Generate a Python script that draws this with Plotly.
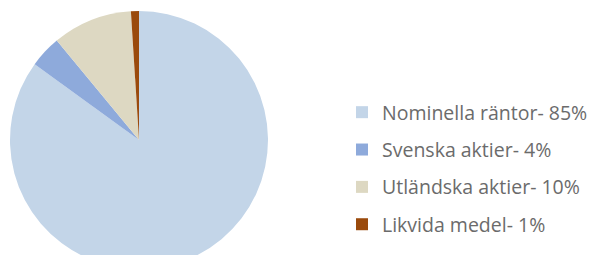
import plotly.graph_objects as go

categories = ["Nominella räntor", "Svenska aktier", "Utländska aktier", "Likvida medel"]
values = [85, 4, 10, 1]
legend_labels = ["Nominella räntor- 85%", "Svenska aktier- 4%", "Utländska aktier- 10%", "Likvida medel- 1%"]
colors = ["#c3d5e8", "#8eaadb", "#ddd8c2", "#9a4a0c"]

W, H = 596, 262

fig = go.Figure()
fig.add_trace(go.Pie(
    labels=categories,
    values=values,
    sort=False,
    direction="clockwise",
    rotation=0,
    textinfo="none",
    marker=dict(colors=colors, line=dict(width=0)),
    showlegend=False,
    domain=dict(x=[2 / W, 260 / W], y=[1 - 261 / H, 1 - 3 / H]),
))

for lab, col in zip(legend_labels, colors):
    fig.add_trace(go.Scatter(
        x=[None], y=[None], mode="markers", name=lab,
        legendgroup=lab,
        marker=dict(symbol="square", size=12, color=col),
        hoverinfo="skip",
    ))

fig.update_layout(
    width=W, height=H,
    margin=dict(l=0, r=0, t=0, b=0),
    paper_bgcolor="white", plot_bgcolor="white",
    xaxis=dict(visible=False), yaxis=dict(visible=False),
    showlegend=True,
    legend=dict(
        x=334 / W, y=1 - 85 / H, xanchor="left", yanchor="top",
        font=dict(family="Open Sans", size=19.5, color="#6b6b6b"),
        tracegroupgap=9,
        bgcolor="rgba(0,0,0,0)",
    ),
)

fig.write_html("out.html")
